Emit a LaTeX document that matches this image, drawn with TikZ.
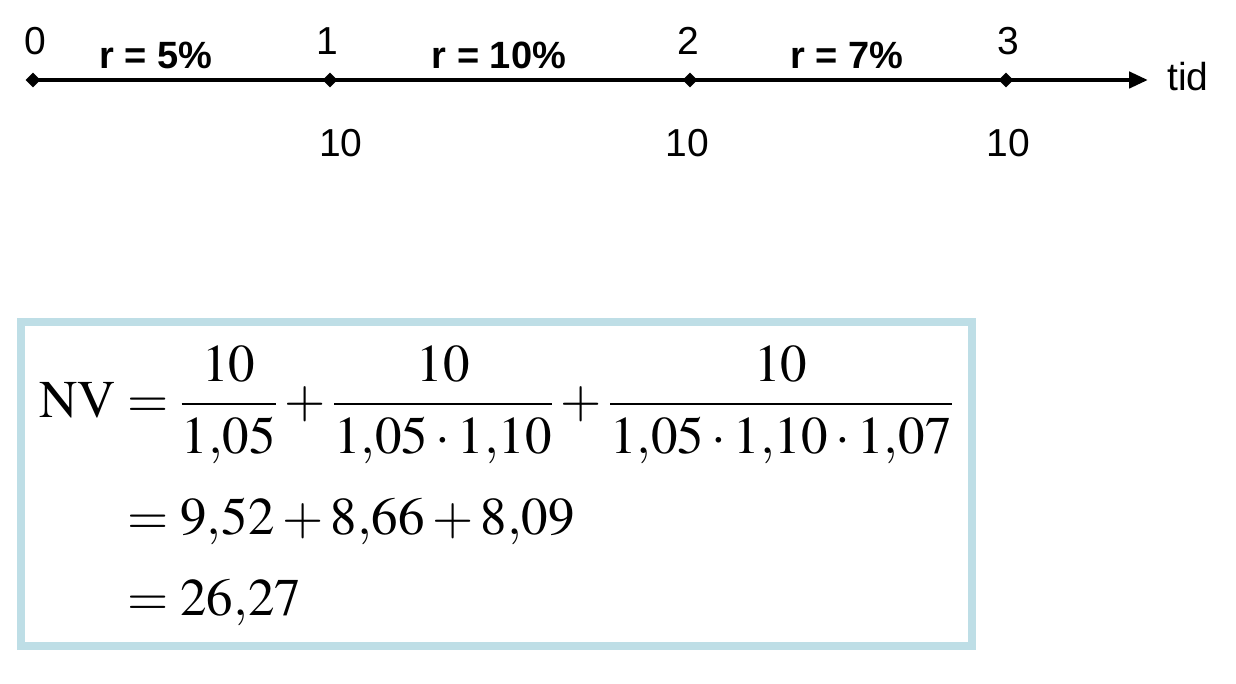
\documentclass[tikz,border=0pt]{standalone}
\usepackage{amsmath}
\usepackage{mathptmx}
\usepackage[no-math]{fontspec}
\newfontfamily\arialfont{Liberation Sans}
\usetikzlibrary{shapes.geometric, arrows.meta, calc, positioning}
\definecolor{boxblue}{RGB}{190,222,230}
\tikzstyle{tick} = [diamond, fill=black, inner sep=0pt, minimum size=15pt]
\tikzstyle{axis} = [line width=4.5pt, -{Triangle[length=19pt,width=16pt]}]
\tikzstyle{period} = [font=\arialfont\fontsize{39}{44}\selectfont, inner sep=0pt]
\tikzstyle{rate} = [font=\arialfont\bfseries\fontsize{38}{42}\selectfont, inner sep=0pt]
\tikzstyle{frame} = [draw=boxblue, line width=8pt]

\begin{document}
\begin{tikzpicture}[x=1pt, y=-1pt]
	\useasboundingbox (0,0) rectangle (1236,684);
	% time axis
	\coordinate (AxisStart) at (33,80);
	\coordinate (AxisEnd) at (1148,80);
	\draw [axis] (AxisStart) -- (AxisEnd);
	\node (T0) [tick] at (33,80) {};
	\node (T1) [tick] at (330,80) {};
	\node (T2) [tick] at (690,80) {};
	\node (T3) [tick] at (1006,80) {};
	\node (Tid) [period, anchor=west] at (1167,77) {tid};
	\node (P0) [period] at (35,41) {0};
	\node (P1) [period] at (327,41) {1};
	\node (P2) [period] at (688,41) {2};
	\node (P3) [period] at (1008,41) {3};
	\node (R1) [rate] at (156,55) {r = 5\%};
	\node (R2) [rate] at (499,55) {r = 10\%};
	\node (R3) [rate] at (847,55) {r = 7\%};
	\node (C1) [period] at (341,143) {10};
	\node (C2) [period] at (687,143) {10};
	\node (C3) [period] at (1008,143) {10};
	% present value
	\draw [frame] (21,322) rectangle (972,646);
	\node (NV) [anchor=base west, inner sep=0pt, font=\fontsize{53}{60}\selectfont] at (39,417)
		{$\begin{aligned}[t]
			\mathrm{NV} &= \dfrac{10}{1{,}05}+\dfrac{10}{1{,}05\cdot 1{,}10}+\dfrac{10}{1{,}05\cdot 1{,}10\cdot 1{,}07}\\[25pt]
			&= 9{,}52+8{,}66+8{,}09\\[18pt]
			&= 26{,}27
		\end{aligned}$};
\end{tikzpicture}
\end{document}
